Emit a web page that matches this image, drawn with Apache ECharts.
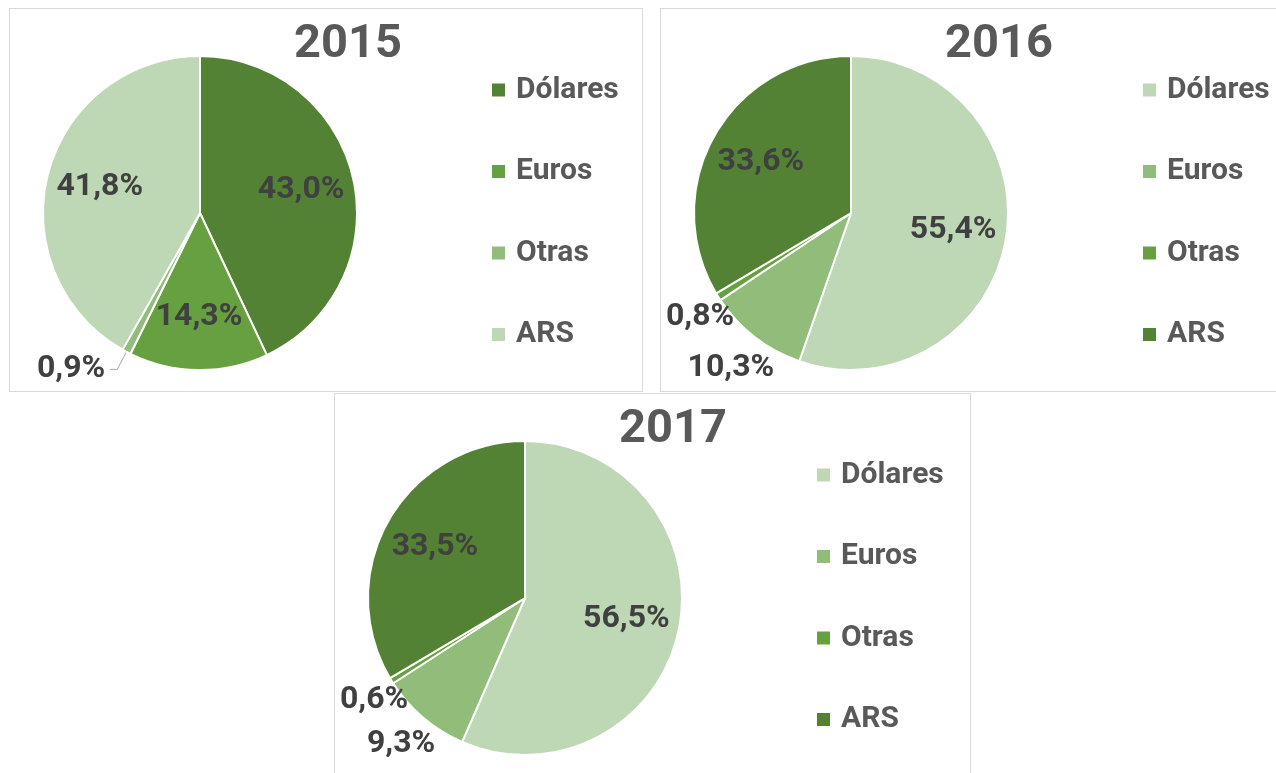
<!DOCTYPE html>
<html>
<head>
<meta charset="utf-8">
<script src="https://cdn.jsdelivr.net/npm/echarts@6/dist/echarts.min.js"></script>
<style>
    body{
        margin: 0;
        width: 1276px;
        height: 773px;
        overflow: hidden;
        position: relative;
        background: #fff;
    }
    .panel{
        position: absolute;
        border: 1px solid #d9d9d9;
        background: #fff;
    }
    #c2015{ left: 9px;   top: 8px;   width: 632px; height: 382px; }
    #c2016{ left: 660px; top: 8px;   width: 640px; height: 382px; }
    #c2017{ left: 334px; top: 393px; width: 635px; height: 400px; }
</style>
</head>
<body>
<div class="panel" id="c2015"></div>
<div class="panel" id="c2016"></div>
<div class="panel" id="c2017"></div>
<script>
    // datos
    var categories = ['Dólares', 'Euros', 'Otras', 'ARS'];
    var years = ['2015', '2016', '2017'];
    var values2015 = [43.0, 14.3, 0.9, 41.8];
    var values2016 = [55.4, 10.3, 0.8, 33.6];
    var values2017 = [56.5, 9.3, 0.6, 33.5];

    var greensDark = ['#548235', '#67a040', '#92bc7a', '#bed7b4'];
    var greensLight = ['#bed7b4', '#92bc7a', '#67a040', '#548235'];

    var FONT = 'Roboto';
    var CX = 190, CY = 204, R = 157;
    var SMALL = 12; // porciones chicas -> etiqueta afuera

    function fmt(v){
        return v.toFixed(1).replace('.', ',') + '%';
    }

    function makeLayout(vals, withLine){
        var total = vals.reduce(function(a, b){ return a + b; }, 0);
        return function(p){
            var i = p.dataIndex;
            var before = 0;
            for (var k = 0; k < i; k++) before += vals[k];
            var mid = (90 - (before + vals[i] / 2) / total * 360) * Math.PI / 180;
            var dx = Math.cos(mid), dy = -Math.sin(mid);
            if (vals[i] >= SMALL) {
                return {x: CX + dx * R * 0.66, y: CY + dy * R * 0.66, align: 'center', verticalAlign: 'middle'};
            }
            if (withLine) return {};
            var hw = p.labelRect.width / 2, hh = p.labelRect.height / 2;
            var d = R + Math.abs(dx) * hw + Math.abs(dy) * hh;
            // que no se salga del recuadro
            var x = Math.max(CX + dx * d, hw + 5);
            return {x: x, y: CY + dy * d, align: 'center', verticalAlign: 'middle'};
        };
    }

    function drawPie(id, year, vals, colors, withLine){
        var myChart = echarts.init(document.getElementById(id));
        var data = categories.map(function(name, i){
            var item = {name: name, value: vals[i], itemStyle: {color: colors[i]}};
            if (vals[i] < SMALL) {
                item.label = {position: 'outside'};
                item.labelLine = {show: withLine};
            }
            return item;
        });
        var option = {
            animation: false,
            title: {
                text: year,
                left: 333,
                top: 8,
                textAlign: 'center',
                textStyle: {
                    fontFamily: FONT,
                    fontSize: 47,
                    fontWeight: 'bold',
                    color: '#595959'
                }
            },
            legend: {
                orient: 'vertical',
                left: 477,
                top: 61,
                icon: 'rect',
                itemWidth: 13,
                itemHeight: 13,
                itemGap: 51.5,
                selectedMode: false,
                itemStyle: {borderWidth: 0},
                textStyle: {
                    fontFamily: FONT,
                    fontSize: 30,
                    lineHeight: 30,
                    fontWeight: 'bold',
                    color: '#595959',
                    padding: [0, 0, 0, 6]
                },
                data: categories
            },
            series: [
                {
                    type: 'pie',
                    center: [CX, CY],
                    radius: R,
                    startAngle: 90,
                    clockwise: true,
                    avoidLabelOverlap: false,
                    itemStyle: {
                        borderColor: '#fff',
                        borderWidth: 2
                    },
                    label: {
                        position: 'inside',
                        formatter: function(p){ return fmt(p.value); },
                        fontFamily: FONT,
                        fontSize: 32,
                        fontWeight: 'bold',
                        color: '#404040'
                    },
                    labelLine: {
                        show: false,
                        length: 20,
                        length2: 7,
                        lineStyle: {color: '#a6a6a6', width: 1}
                    },
                    labelLayout: makeLayout(vals, withLine),
                    emphasis: {disabled: true},
                    data: data
                }
            ]
        };
        myChart.setOption(option);
    }

    drawPie('c2015', years[0], values2015, greensDark, true);
    drawPie('c2016', years[1], values2016, greensLight, false);
    drawPie('c2017', years[2], values2017, greensLight, false);
</script>
</body>
</html>
